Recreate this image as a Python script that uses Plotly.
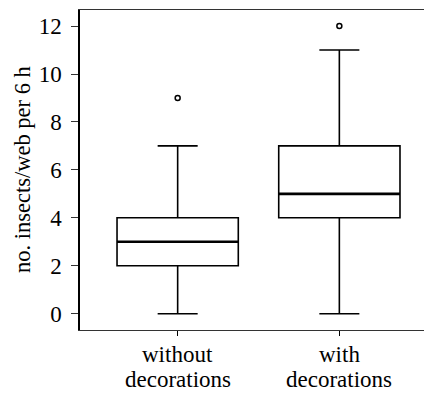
import plotly.graph_objects as go

categories = ["without<br>decorations", "with<br>decorations"]
lower_whisker = [0, 0]
q1_vals = [2, 4]
median_vals = [3, 5]
q3_vals = [4, 7]
upper_whisker = [7, 11]
outlier_vals = [9, 12]
y_ticks = [0, 2, 4, 6, 8, 10, 12]
y_title = "no. insects/web per 6 h"

FONT = "Liberation Serif"
FS = 23

fig = go.Figure()

# main boxes with whiskers
fig.add_trace(go.Box(
    x=categories, q1=q1_vals, median=median_vals, q3=q3_vals,
    lowerfence=lower_whisker, upperfence=upper_whisker,
    fillcolor="rgba(0,0,0,0)", line=dict(color="black", width=1.6),
    whiskerwidth=0.33, width=0.75, boxpoints=False, showlegend=False,
    hoverinfo="skip",
))

# thick median lines
fig.add_trace(go.Box(
    x=categories, q1=median_vals, median=median_vals, q3=median_vals,
    lowerfence=median_vals, upperfence=median_vals,
    fillcolor="rgba(0,0,0,0)", line=dict(color="black", width=2.6),
    whiskerwidth=0, width=0.75, boxpoints=False, showlegend=False,
    hoverinfo="skip",
))

# outliers
fig.add_trace(go.Scatter(
    x=categories, y=outlier_vals, mode="markers",
    marker=dict(symbol="circle-open", size=5, color="black",
                line=dict(width=1.5, color="black")),
    showlegend=False, hoverinfo="skip",
))

# x tick labels drawn line by line for tight line spacing
for cat in categories:
    for i, line in enumerate(cat.split("<br>")):
        fig.add_annotation(
            x=cat, xref="x", y=0, yref="paper", yanchor="top",
            yshift=-10 - 25 * i, text=line, showarrow=False,
            font=dict(family=FONT, size=FS, color="black"),
        )

# y-axis title
fig.add_annotation(
    x=0, xref="paper", xshift=-58, y=0.5, yref="paper",
    xanchor="center", yanchor="middle", textangle=-90,
    text=y_title, showarrow=False,
    font=dict(family=FONT, size=22.5, color="black"),
)

fig.update_layout(
    width=424, height=386,
    margin=dict(l=72, r=0, t=2, b=64),
    paper_bgcolor="white", plot_bgcolor="white",
    boxmode="overlay",
    font=dict(family=FONT, size=FS, color="black"),
    xaxis=dict(
        range=[-0.604, 1.573], showline=True, mirror=True, automargin=False,
        linecolor="#333", linewidth=1.3, showgrid=False, zeroline=False,
        ticks="outside", ticklen=5, tickwidth=1.3, tickcolor="black",
        showticklabels=False,
    ),
    yaxis=dict(
        range=[-0.68, 12.67], tickvals=y_ticks, automargin=False,
        showline=True, mirror=False, linecolor="black", linewidth=1.5,
        showgrid=False, zeroline=False,
        ticks="outside", ticklen=7, tickwidth=1.3, tickcolor="#333",
        ticklabelstandoff=5,
        tickfont=dict(family=FONT, size=FS, color="black"),
    ),
)

fig.write_html("out.html")
